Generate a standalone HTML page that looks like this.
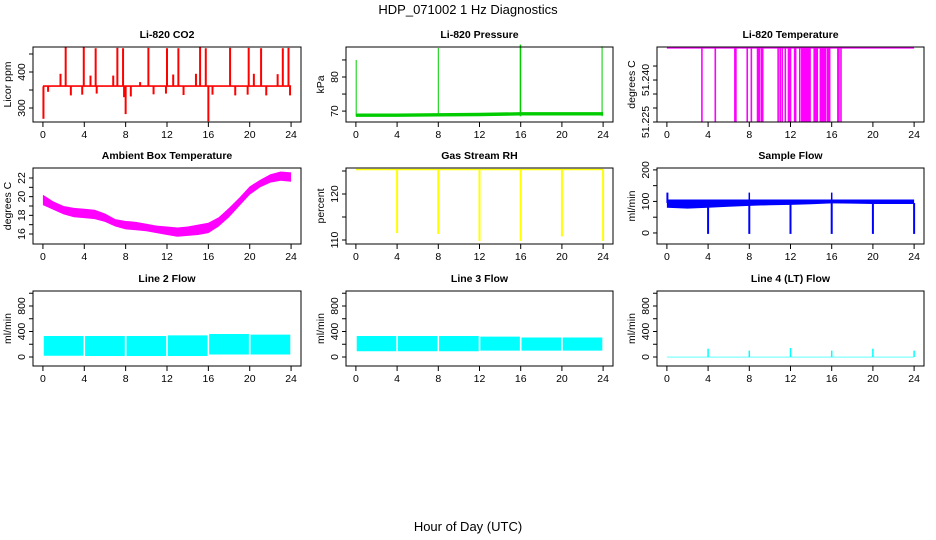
<!DOCTYPE html>
<html><head><meta charset="utf-8">
<style>
body{margin:0;background:#fff;}
svg{display:block;font-family:"Liberation Sans",sans-serif;}
.tk{font-size:10.5px;fill:#000;}
.tt{font-size:10.5px;font-weight:bold;fill:#000;}
</style></head>
<body>
<svg id="chart" width="936" height="540" viewBox="0 0 936 540">
<rect width="936" height="540" fill="#fff"/>
<text x="468" y="14" text-anchor="middle" font-size="13">HDP_071002  1 Hz Diagnostics</text>
<text x="468" y="531" text-anchor="middle" font-size="13">Hour of Day (UTC)</text>
</svg>
<script>
// ---- data ----
const xTicks = [0,4,8,12,16,20,24];
const co2Base = 360;
const co2SpikeHours = [0.05,0.5,1.7,2.2,2.7,3.8,3.95,4.6,5.1,5.2,6.8,7.2,7.75,7.85,8.0,8.5,9.4,10.2,10.7,11.9,12.0,12.6,13.1,13.6,14.8,15.2,15.75,16.0,16.4,18.1,18.6,19.8,19.9,20.4,21.1,21.6,22.7,23.2,23.75,23.9];
const co2SpikeVals  = [270,345,395,468,335,337,468,390,466,340,390,467,466,330,283,332,372,467,338,340,466,393,466,336,395,468,466,263,337,467,335,337,467,395,466,335,394,466,467,335];
const presBase = [68.8,68.8,68.9,69.0,69.2,69.2,69.2];
const presSpikeHours = [0.03,8.0,15.95,16.0,23.9];
const presSpikeVals = [85,88.5,89.5,89.5,89];
const tempTop = 51.2515;
const tempDropHours = [3.4,4.7,6.6,6.7,7.8,8.2,8.8,8.9,9.0,9.2,9.3,10.8,11.0,11.2,11.5,11.8,11.9,12.0,12.4,12.5,12.9,13.1,13.2,13.3,13.4,13.5,13.6,13.7,13.8,13.9,14.3,14.4,14.5,14.6,14.9,15.0,15.1,15.2,15.3,15.4,15.6,15.7,15.8,16.6,16.7,16.9];
const ambHours = [0,1,2,3,4,5,6,7,8,9,10,11,12,13,14,15,16,17,18,19,20,21,22,23,24];
const ambLo = [19.1,18.6,18.1,17.8,17.7,17.6,17.3,16.8,16.5,16.4,16.3,16.1,15.9,15.7,15.8,15.9,16.1,16.8,17.8,19.0,20.2,21.0,21.5,21.7,21.6];
const ambHi = [20.2,19.5,19.0,18.8,18.7,18.6,18.2,17.6,17.4,17.3,17.1,16.9,16.8,16.7,16.8,17.0,17.2,17.8,18.8,19.9,21.1,21.8,22.4,22.7,22.6];
const rhTop = 125.3;
const rhDropHours = [4,8,12,16,20,24];
const rhDropVals = [111.5,111.3,109.8,109.8,110.8,109.8];
const sfHours = [0,2,4,6,8,10,12,14,16,18,20,22,24];
const sfLo = [80,77,80,83,86,88,89,91,94,93,92,92,92];
const sfHi = [106,106,106,106,106,106,106,106,106,106,106,106,106];
const sfDropHours = [0.05,4,8,12,16,20,24];
const sfDropVals = [128,-3,-3,-3,-3,-3,-3];
const sfPeakHours = [8,16];
const sfPeakVals = [128,128];
const segStart = [0,4,8,12,16,20];
const segEnd = [4,8,12,16,20,24];
const l2Lo = [20,15,15,15,40,40];
const l2Hi = [330,330,330,340,360,350];
const l3Lo = [90,90,90,100,100,100];
const l3Hi = [330,330,330,320,305,305];
const l4SpikeHours = [4,8,12,16,20,24];
const l4SpikeVals = [130,100,140,100,130,100];

// ---- layout ----
const NS="http://www.w3.org/2000/svg";
const svg=document.getElementById('chart');
function mk(tag,attrs,parent){const e=document.createElementNS(NS,tag);for(const k in attrs)e.setAttribute(k,attrs[k]);(parent||svg).appendChild(e);return e;}
const cols=[[33,301],[346,613],[657,924]];
const rows=[[47,122],[168,244],[291,366]];
function panel(c,r,title,ylab,ydom,ticks,labels,name){
  const [x0,x1]=cols[c],[y0,y1]=rows[r];
  const g=mk('g',{});
  
  
  const sx=v=>x0+(v+0.96)/25.92*(x1-x0);
  const sy=v=>y1-(v-ydom[0])/(ydom[1]-ydom[0])*(y1-y0);
  const t=mk('text',{x:(x0+x1)/2,y:y0-9,'text-anchor':'middle',class:'tt'},g);t.textContent=title;
  
  
  const yl=mk('text',{x:0,y:0,'text-anchor':'middle',class:'tk',transform:`translate(${x0-22},${(y0+y1)/2}) rotate(-90)`},g);yl.textContent=ylab;
  
  
  ticks.forEach((tv,i)=>{const y=sy(tv);
    const l=mk('line',{x1:x0-4,x2:x0,y1:y,y2:y,stroke:'#000'},g);
    
    
    if(labels[i]!==''){const tx=mk('text',{x:0,y:0,'text-anchor':'middle',class:'tk',transform:`translate(${x0-8},${y}) rotate(-90)`},g);tx.textContent=labels[i];
      
      }
  });
  xTicks.forEach(tv=>{const x=sx(tv);
    const l=mk('line',{x1:x,x2:x,y1:y1,y2:y1+5,stroke:'#000'},g);
    
    
    const tx=mk('text',{x:x,y:y1+16,'text-anchor':'middle',class:'tk'},g);tx.textContent=tv;
    
    
  });
  const dg=mk('g',{},g);
  
  
  const box=mk('rect',{x:x0,y:y0,width:x1-x0,height:y1-y0,fill:'none',stroke:'#000'},g);
  
  
  return {sx,sy,g:dg};
}
function vline(p,h,v0,v1,col,w,nm){const l=mk('line',{x1:p.sx(h),x2:p.sx(h),y1:p.sy(v0),y2:p.sy(v1),stroke:col,'stroke-width':w},p.g);
  
  }
function band(p,hs,lo,hi,col,nm){let pts=hs.map((h,i)=>p.sx(h)+','+p.sy(hi[i]));
  for(let i=hs.length-1;i>=0;i--)pts.push(p.sx(hs[i])+','+p.sy(lo[i]));
  const e=mk('polygon',{points:pts.join(' '),fill:col},p.g);
  
  }

// CO2
let p=panel(0,0,'Li-820 CO2','Licor ppm',[261.1,469.4],[300,350,400,450],['300','','400',''],'co2');
co2SpikeHours.forEach((h,i)=>vline(p,h,co2Base,co2SpikeVals[i],'#f00',2,'co2-spike'));
band(p,[0,24],[co2Base-1.5,co2Base-1.5],[co2Base+3,co2Base+3],'#f00','co2-baseline');
// Pressure
p=panel(1,0,'Li-820 Pressure','kPa',[66.8,88.8],[70,75,80,85],['70','','80',''],'pressure');
band(p,xTicks,presBase.map(v=>v-0.5),presBase.map(v=>v+0.5),'#0c0','pressure-baseline');
presSpikeHours.forEach((h,i)=>vline(p,h,68.5,presSpikeVals[i],'#0c0',1,'pressure-spike'));
// Temp
p=panel(2,0,'Li-820 Temperature','degrees C',[51.225,51.2518],[51.225,51.23,51.235,51.24,51.245],['51.225','','','51.240',''],'licor-temp');
tempDropHours.forEach(h=>vline(p,h,tempTop,51.225,'#f0f',1.6,'temp-drop'));
band(p,[0,24],[tempTop-0.0003,tempTop-0.0003],[tempTop+0.0003,tempTop+0.0003],'#f0f','temp-line');
// Ambient
p=panel(0,1,'Ambient Box Temperature','degrees C',[14.93,23.07],[16,17,18,19,20,21,22],['16','','18','','20','','22'],'ambient-temp');
band(p,ambHours,ambLo,ambHi,'#f0f','ambient-band');
// RH
p=panel(1,1,'Gas Stream RH','percent',[109.13,125.65],[110,115,120,125],['110','','120',''],'rh');
band(p,[0,24],[rhTop-0.15,rhTop-0.15],[rhTop+0.15,rhTop+0.15],'#ff0','rh-line');
rhDropHours.forEach((h,i)=>vline(p,h,rhTop,rhDropVals[i],'#ff0',2,'rh-drop'));
// Sample flow
p=panel(2,1,'Sample Flow','ml/min',[-35,206],[0,50,100,150,200],['0','','100','','200'],'sample-flow');
band(p,sfHours,sfLo,sfHi,'#00f','sample-flow-band');
sfDropHours.forEach((h,i)=>vline(p,h,95,sfDropVals[i],'#00f',2,'sample-flow-drop'));
sfPeakHours.forEach((h,i)=>vline(p,h,95,sfPeakVals[i],'#00f',1.5,'sample-flow-peak'));
// Line flows
const ft=[0,200,400,600,800,1000],fl=['0','','400','','800',''];
p=panel(0,2,'Line 2 Flow','ml/min',[-141,1035],ft,fl,'line2-flow');
segStart.forEach((s,i)=>band(p,[s+0.08,segEnd[i]-0.08],[l2Lo[i],l2Lo[i]],[l2Hi[i],l2Hi[i]],'#0ff','line2-block'));
p=panel(1,2,'Line 3 Flow','ml/min',[-141,1035],ft,fl,'line3-flow');
segStart.forEach((s,i)=>band(p,[s+0.08,segEnd[i]-0.08],[l3Lo[i],l3Lo[i]],[l3Hi[i],l3Hi[i]],'#0ff','line3-block'));
p=panel(2,2,'Line 4 (LT) Flow','ml/min',[-141,1035],ft,fl,'line4-flow');
band(p,[0,24],[-5,-5],[5,5],'#0ff','line4-baseline');
l4SpikeHours.forEach((h,i)=>vline(p,h,0,l4SpikeVals[i],'#0ff',1.5,'line4-spike'));
</script>
</body></html>
